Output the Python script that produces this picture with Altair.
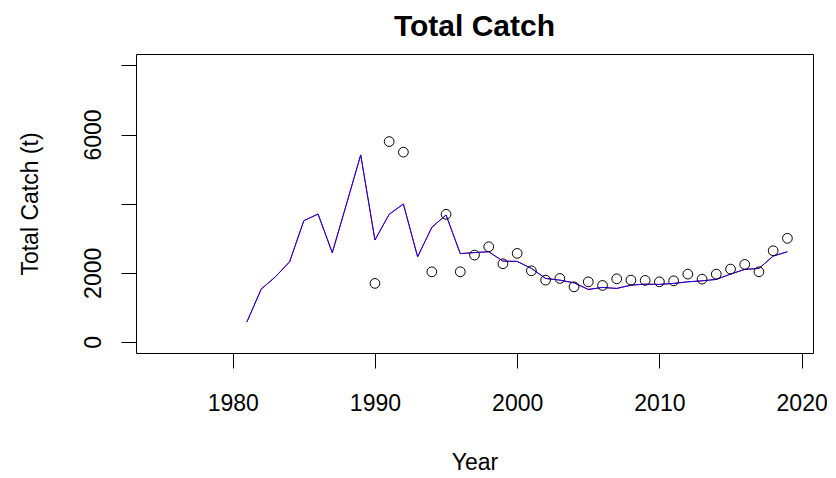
import altair as alt
import pandas as pd

line_years = list(range(1981, 2020))
line_values = [580, 1527, 1884, 2319, 3507, 3700, 2580, 3990, 5411, 2948,
               3692, 3991, 2464, 3316, 3672, 2555, 2585, 2609, 2339, 2330,
               2127, 1837, 1788, 1710, 1519, 1577, 1548, 1643, 1672, 1664,
               1693, 1739, 1768, 1809, 1962, 2098, 2127, 2484, 2609]

point_years = [1990, 1991, 1992, 1994, 1995, 1996, 1997, 1998, 1999, 2000,
               2001, 2002, 2003, 2004, 2005, 2006, 2007, 2008, 2009, 2010,
               2011, 2012, 2013, 2014, 2015, 2016, 2017, 2018, 2019]
point_values = [1693, 5797, 5490, 2029, 3692, 2029, 2513, 2754, 2262, 2562,
                2058, 1788, 1837, 1594, 1739, 1635, 1826, 1788, 1780, 1739,
                1768, 1962, 1817, 1962, 2107, 2243, 2029, 2638, 2997]

x_ticks = [1980, 1990, 2000, 2010, 2020]
y_ticks = [0, 2000, 4000, 6000, 8000]

FONT = "Liberation Sans"

line_df = pd.DataFrame({"Year": line_years, "Catch": line_values})
pt_df = pd.DataFrame({"Year": point_years, "Catch": point_values})

xscale = alt.Scale(domain=[1973.2, 2020.8], nice=False, zero=False)
yscale = alt.Scale(domain=[-320, 8330], nice=False, zero=False)

x_enc = alt.X("Year:Q", scale=xscale, title="Year",
              axis=alt.Axis(values=x_ticks, format="d", grid=False, domain=False,
                            tickSize=15, tickColor="black", tickWidth=1,
                            labelFontSize=23, labelFont=FONT, labelColor="black",
                            labelPadding=24, labelFlush=False, labelOverlap=False,
                            titleFont=FONT, titleFontSize=23, titleFontWeight="normal",
                            titleColor="black", titleY=109, titleBaseline="middle"))
y_enc = alt.Y("Catch:Q", scale=yscale, title="Total Catch (t)",
              axis=alt.Axis(values=y_ticks, format="d", grid=False, domain=False,
                            tickSize=15, tickColor="black", tickWidth=1,
                            labelExpr="(datum.value==0||datum.value==2000||datum.value==6000) ? datum.label : ''",
                            labelAngle=270, labelAlign="center", labelBaseline="alphabetic",
                            labelFontSize=23, labelFont=FONT, labelColor="black",
                            labelPadding=21, labelFlush=False, labelOverlap=False,
                            titleFont=FONT, titleFontSize=23, titleFontWeight="normal",
                            titleColor="black", titleAngle=270, titleX=-106,
                            titleBaseline="middle", titleAlign="center"))

red = alt.Chart(line_df).mark_line(color="red", strokeWidth=1).encode(x=x_enc, y=y_enc)
blue = alt.Chart(line_df).mark_line(color="blue", strokeWidth=1).encode(x="Year:Q", y="Catch:Q")
pts = alt.Chart(pt_df).mark_point(shape="circle", size=95, filled=False,
                                  color="black", strokeWidth=1, opacity=1).encode(
    x="Year:Q", y="Catch:Q")

chart = alt.layer(red, blue, pts).properties(
    width=677, height=299,
    autosize=alt.AutoSizeParams(type="none"),
    padding={"left": 128, "top": 46, "right": 14, "bottom": 124},
    title=alt.Title("Total Catch", font=FONT, fontSize=30, fontWeight="bold",
                    color="black", anchor="middle", offset=12),
).configure(background="white").configure_view(stroke="black", strokeWidth=1)

chart.save("out.html", embed_options={"renderer": "svg", "actions": False})
